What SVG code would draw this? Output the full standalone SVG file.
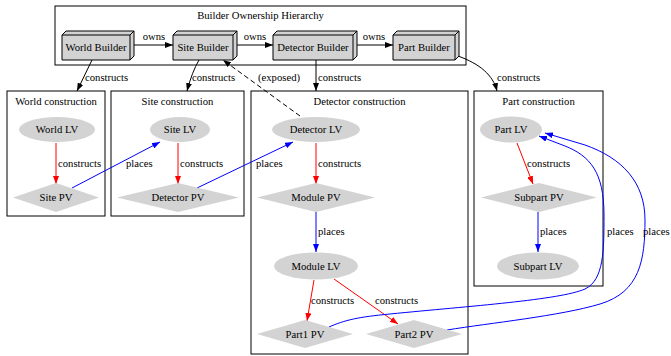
<svg xmlns="http://www.w3.org/2000/svg" width="671" height="356" viewBox="0 0 671 356">
<style>
text{font-family:"Liberation Serif","Times New Roman",serif;font-size:10.67px;fill:#000}
.c{text-anchor:middle}
.cl{fill:none;stroke:#000;stroke-width:1}
.lv,.pv{fill:#d3d3d3;stroke:none}
.b3{fill:#d3d3d3;stroke:#000;stroke-width:1}
.bl{fill:none;stroke:#000;stroke-width:1}
.e{fill:none;stroke-width:1}
.k{stroke:#000}
.r{stroke:#ff0000}
.u{stroke:#0000ff}
</style>
<defs>
<marker id="ak" viewBox="0 0 8 6" refX="8" refY="3" markerWidth="8" markerHeight="6" markerUnits="userSpaceOnUse" orient="auto"><path d="M0,0 L8,3 L0,6 z" fill="#000"/></marker>
<marker id="ar" viewBox="0 0 8 6" refX="8" refY="3" markerWidth="8" markerHeight="6" markerUnits="userSpaceOnUse" orient="auto"><path d="M0,0 L8,3 L0,6 z" fill="#ff0000"/></marker>
<marker id="au" viewBox="0 0 8 6" refX="8" refY="3" markerWidth="8" markerHeight="6" markerUnits="userSpaceOnUse" orient="auto"><path d="M0,0 L8,3 L0,6 z" fill="#0000ff"/></marker>
</defs>

<g id="clusters">
<g id="cluster_builders"><rect class="cl" x="55" y="6" width="411" height="59"/><text class="c" x="260.5" y="19">Builder Ownership Hierarchy</text></g>
<g id="cluster_world"><rect class="cl" x="7" y="91" width="98" height="125"/><text class="c" x="56" y="104.5">World construction</text></g>
<g id="cluster_site"><rect class="cl" x="111" y="91" width="133" height="125"/><text class="c" x="177.5" y="104.5">Site construction</text></g>
<g id="cluster_detector"><rect class="cl" x="251" y="91" width="217" height="263"/><text class="c" x="359.5" y="104.5">Detector construction</text></g>
<g id="cluster_part"><rect class="cl" x="474" y="91" width="129" height="195"/><text class="c" x="538.5" y="104.5">Part construction</text></g>
</g>

<g id="connectors">
<path class="e k" d="M134,45 L173,45" marker-end="url(#ak)"/>
<text class="c" x="154" y="40">owns</text>
<path class="e k" d="M237,45 L273,45" marker-end="url(#ak)"/>
<text class="c" x="255" y="40">owns</text>
<path class="e k" d="M357,45 L393,45" marker-end="url(#ak)"/>
<text class="c" x="374" y="40">owns</text>

<path class="e k" d="M92,60 L77,91" marker-end="url(#ak)"/>
<text x="85" y="81">constructs</text>
<path class="e k" d="M199,60 Q192,72 187,91" marker-end="url(#ak)"/>
<text x="192" y="81">constructs</text>
<path class="e k" d="M316,60 L316,91" marker-end="url(#ak)"/>
<text x="318" y="81">constructs</text>
<path class="e k" d="M458,56 C480,64 493,75 497,91" marker-end="url(#ak)"/>
<text x="497" y="81">constructs</text>
<path class="e k" d="M300,116 L223,60" stroke-dasharray="5,3" marker-end="url(#ak)"/>
<text x="258" y="81">(exposed)</text>

<path class="e r" d="M56,143 L56,184" marker-end="url(#ar)"/>
<text x="58" y="167">constructs</text>
<path class="e u" d="M72,188 L160,142" marker-end="url(#au)"/>
<text x="126" y="167">places</text>
<path class="e r" d="M178,143 L178,184" marker-end="url(#ar)"/>
<text x="180" y="167">constructs</text>
<path class="e u" d="M197,188 L293,142" marker-end="url(#au)"/>
<text x="256" y="167">places</text>
<path class="e r" d="M316,143 L316,184" marker-end="url(#ar)"/>
<text x="318" y="167">constructs</text>
<path class="e u" d="M316,212 L316,252" marker-end="url(#au)"/>
<text x="318" y="235">places</text>
<path class="e r" d="M314,280 L307,321" marker-end="url(#ar)"/>
<text x="311" y="304">constructs</text>
<path class="e r" d="M334,279 L398,324" marker-end="url(#ar)"/>
<text x="375" y="304">constructs</text>
<path class="e r" d="M517,143 L533,184" marker-end="url(#ar)"/>
<text x="527" y="167">constructs</text>
<path class="e u" d="M538,212 L538,252" marker-end="url(#au)"/>
<text x="540" y="235">places</text>

<path class="e u" d="M329,327 C345,320 358,317 390,314 C470,306 560,300 585,289 C604,280 604,250 604,215 C604,172 590,156 565,146 L539,136" marker-end="url(#au)"/>
<text x="607" y="235">places</text>
<path class="e u" d="M447,330 C490,323 560,316 600,304 C640,292 645,260 645,220 C645,182 622,158 585,145 L545,133" marker-end="url(#au)"/>
<text x="643" y="235">places</text>
</g>

<g id="world_builder"><path class="b3" d="M62,35 L66,31 L134,31 L134,56 L130,60 L62,60 Z"/><path class="bl" d="M62,35 L130,35 L130,60 M130,35 L134,31"/><text class="c" x="96" y="51">World Builder</text></g>
<g id="site_builder"><path class="b3" d="M173,35 L177,31 L237,31 L237,56 L233,60 L173,60 Z"/><path class="bl" d="M173,35 L233,35 L233,60 M233,35 L237,31"/><text class="c" x="203" y="51">Site Builder</text></g>
<g id="detector_builder"><path class="b3" d="M273,35 L277,31 L357,31 L357,56 L353,60 L273,60 Z"/><path class="bl" d="M273,35 L353,35 L353,60 M353,35 L357,31"/><text class="c" x="313" y="51">Detector Builder</text></g>
<g id="part_builder"><path class="b3" d="M393,35 L397,31 L459,31 L459,56 L455,60 L393,60 Z"/><path class="bl" d="M393,35 L455,35 L455,60 M455,35 L459,31"/><text class="c" x="424" y="51">Part Builder</text></g>

<g id="world_lv"><ellipse class="lv" cx="57" cy="129.5" rx="38" ry="12.5"/><text class="c" x="57" y="133">World LV</text></g>
<g id="site_pv"><path class="pv" d="M13,197.5 L56,183 L99,197.5 L56,212 Z"/><text class="c" x="56" y="201">Site PV</text></g>
<g id="site_lv"><ellipse class="lv" cx="180" cy="129.5" rx="30" ry="12.5"/><text class="c" x="180" y="133">Site LV</text></g>
<g id="detector_pv"><path class="pv" d="M117,197.5 L178,183 L239,197.5 L178,212 Z"/><text class="c" x="178" y="201">Detector PV</text></g>
<g id="detector_lv"><ellipse class="lv" cx="316" cy="129.5" rx="44" ry="12.5"/><text class="c" x="316" y="133">Detector LV</text></g>
<g id="module_pv"><path class="pv" d="M257,197.5 L316,183 L375,197.5 L316,212 Z"/><text class="c" x="316" y="201">Module PV</text></g>
<g id="module_lv"><ellipse class="lv" cx="316" cy="266" rx="42" ry="13.5"/><text class="c" x="316" y="269.5">Module LV</text></g>
<g id="part1_pv"><path class="pv" d="M257,334 L305,320 L353,334 L305,348 Z"/><text class="c" x="305" y="337.5">Part1 PV</text></g>
<g id="part2_pv"><path class="pv" d="M366,334 L414,320 L462,334 L414,348 Z"/><text class="c" x="414" y="337.5">Part2 PV</text></g>
<g id="part_lv"><ellipse class="lv" cx="511" cy="129.5" rx="31" ry="13"/><text class="c" x="511" y="133">Part LV</text></g>
<g id="subpart_pv"><path class="pv" d="M481,197.5 L539,183 L597,197.5 L539,212 Z"/><text class="c" x="539" y="201">Subpart PV</text></g>
<g id="subpart_lv"><ellipse class="lv" cx="538" cy="266" rx="41" ry="13.5"/><text class="c" x="538" y="269.5">Subpart LV</text></g>
</svg>
